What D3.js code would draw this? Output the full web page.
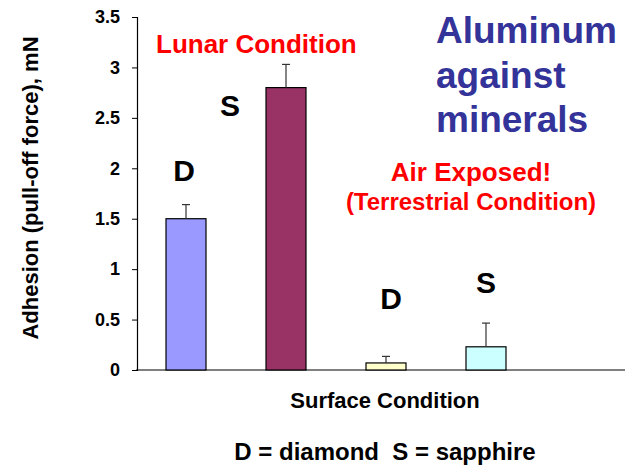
<!DOCTYPE html>
<html>
<head>
<meta charset="utf-8">
<script src="https://cdn.jsdelivr.net/npm/d3@7"></script>
<style>
  body { margin: 0; background: #fff; }
  text { font-family: "Liberation Sans", Arial, sans-serif; font-weight: bold; }
</style>
</head>
<body>
<script>
(function() {
  'use strict';

  var width = 625,
      height = 466;

  // data
  var categories = ["Lunar D", "Lunar S", "Air D", "Air S"];
  var barLabels  = ["D", "S", "D", "S"];
  var values     = [1.50, 2.80, 0.07, 0.23];
  var errors     = [0.14, 0.23, 0.065, 0.235];
  var colors     = ["#9999ff", "#993366", "#ffffcc", "#ccffff"];
  var yTicks     = [0, 0.5, 1, 1.5, 2, 2.5, 3, 3.5];

  var svg = d3.select("body").append("svg")
      .attr("width", width)
      .attr("height", height);

  var y = d3.scaleLinear().domain([0, 3.5]).range([370, 17]);

  var x = d3.scaleBand()
      .domain(categories)
      .range([136, 536])
      .paddingInner(0.6)
      .paddingOuter(0.3);

  // x baseline (grey, runs to the edge)
  svg.append("line")
     .attr("x1", 136).attr("x2", 625)
     .attr("y1", y(0)).attr("y2", y(0))
     .attr("stroke", "#808080")
     .attr("stroke-width", 2);

  // y axis
  var yAxis = d3.axisLeft(y)
      .tickValues(yTicks)
      .tickFormat(d3.format("~g"))
      .tickSize(5)
      .tickPadding(12);

  var gy = svg.append("g")
      .attr("transform", "translate(137,0)")
      .call(yAxis);
  gy.select(".domain").attr("stroke", "#000").attr("stroke-width", 1.2);
  gy.selectAll(".tick line").attr("stroke", "#000");
  gy.selectAll(".tick text")
    .attr("fill", "#000")
    .style("font-size", "18px")
    .style("font-family", "'Liberation Sans', Arial, sans-serif")
    .style("font-weight", "bold");

  // bars
  svg.selectAll("rect.bar").data(values).enter()
     .append("rect")
     .attr("class", "bar")
     .attr("x", function(d, i) { return x(categories[i]); })
     .attr("y", function(d) { return y(d); })
     .attr("width", x.bandwidth())
     .attr("height", function(d) { return y(0) - y(d); })
     .attr("fill", function(d, i) { return colors[i]; })
     .attr("stroke", "#000")
     .attr("stroke-width", 1.2);

  // error bars
  var cx = function(i) { return x(categories[i]) + x.bandwidth() / 2; };
  var eb = svg.selectAll("g.err").data(values).enter()
     .append("g").attr("class", "err")
     .attr("stroke", "#333")
     .attr("stroke-width", 1.2);
  eb.append("line")
     .attr("x1", function(d, i) { return cx(i); })
     .attr("x2", function(d, i) { return cx(i); })
     .attr("y1", function(d) { return y(d); })
     .attr("y2", function(d, i) { return y(d + errors[i]); });
  eb.append("line")
     .attr("x1", function(d, i) { return cx(i) - 4; })
     .attr("x2", function(d, i) { return cx(i) + 4; })
     .attr("y1", function(d, i) { return y(d + errors[i]); })
     .attr("y2", function(d, i) { return y(d + errors[i]); });

  // D / S letters, placed like the free text boxes of the original
  var labelOffset = [[-2, -24], [-56, 52], [5, -47], [0, -30]];
  svg.selectAll("text.blabel").data(values).enter()
     .append("text")
     .attr("class", "blabel")
     .attr("x", function(d, i) { return cx(i) + labelOffset[i][0]; })
     .attr("y", function(d, i) { return y(d + errors[i]) + labelOffset[i][1]; })
     .attr("text-anchor", "middle")
     .style("font-size", "30px")
     .attr("fill", "#000")
     .text(function(d, i) { return barLabels[i]; });

  // y title
  svg.append("text")
     .attr("transform", "translate(38,188) rotate(-90)")
     .attr("text-anchor", "middle")
     .style("font-size", "22px")
     .text("Adhesion (pull-off force), mN");

  // x title and key
  svg.append("text")
     .attr("x", 385).attr("y", 408)
     .attr("text-anchor", "middle")
     .style("font-size", "22px")
     .text("Surface Condition");

  svg.append("text")
     .attr("x", 385).attr("y", 460)
     .attr("text-anchor", "middle")
     .style("font-size", "24px")
     .attr("xml:space", "preserve")
     .style("white-space", "pre")
     .text("D = diamond  S = sapphire");

  // red notes
  svg.append("text")
     .attr("x", 156).attr("y", 53)
     .style("font-size", "26px")
     .attr("fill", "#ff0000")
     .text("Lunar Condition");

  svg.append("text")
     .attr("x", 471).attr("y", 181)
     .attr("text-anchor", "middle")
     .style("font-size", "26px")
     .attr("fill", "#ff0000")
     .text("Air Exposed!");

  svg.append("text")
     .attr("x", 471).attr("y", 210)
     .attr("text-anchor", "middle")
     .style("font-size", "24px")
     .attr("fill", "#ff0000")
     .text("(Terrestrial Condition)");

  // blue title
  var title = svg.append("text")
     .attr("x", 436).attr("y", 43)
     .style("font-size", "37px")
     .attr("fill", "#333399");
  ["Aluminum", "against", "minerals"].forEach(function(t, i) {
    title.append("tspan").attr("x", 436).attr("dy", i === 0 ? 0 : 44.5).text(t);
  });

})();
</script>
</body>
</html>
